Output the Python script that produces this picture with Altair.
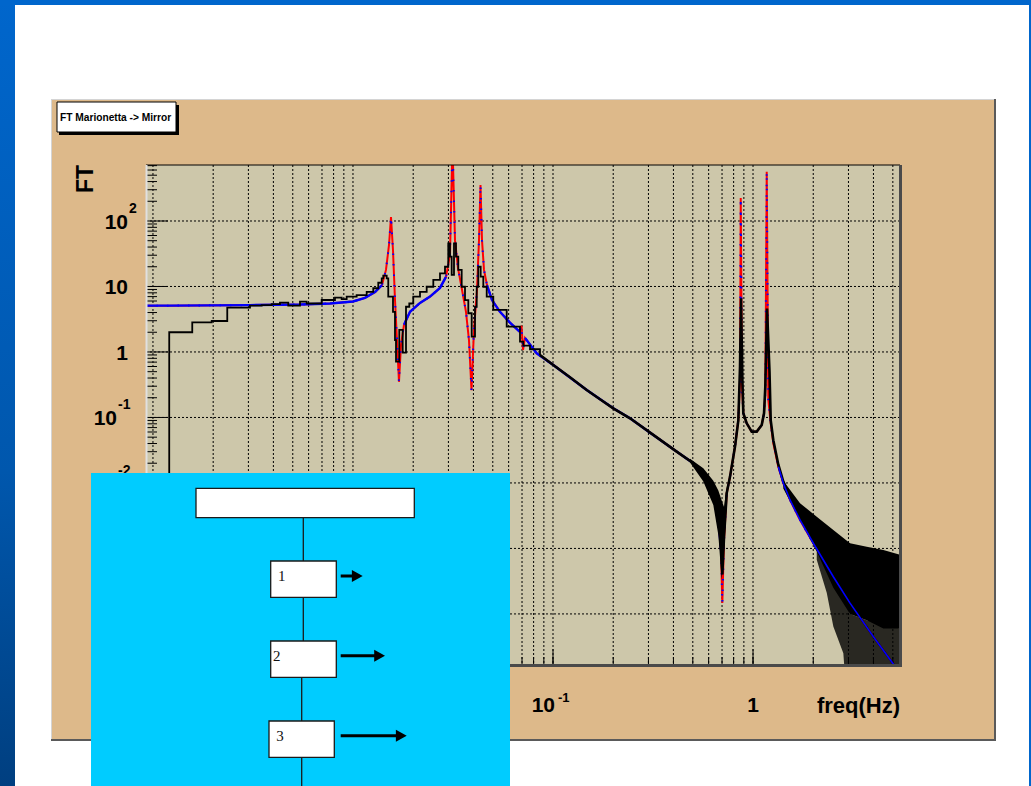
import math
import altair as alt
import pandas as pd

# ---------------- data ----------------
fit_freq = [0.000923, 0.001216, 0.003055, 0.005433, 0.007674, 0.0100, 0.01148, 0.01288, 0.01396, 0.01462,
            0.01514, 0.01549, 0.01585, 0.01622, 0.01660, 0.01698, 0.01738, 0.01799, 0.01928, 0.02163,
            0.02427, 0.02723, 0.02917, 0.03055, 0.03144, 0.03236, 0.03350, 0.03508, 0.03673, 0.03802,
            0.03913, 0.04027, 0.04169, 0.04266, 0.04340, 0.04416, 0.04519, 0.04677, 0.04955, 0.05433,
            0.06095, 0.06802, 0.06960, 0.07079, 0.07244, 0.08288, 0.1003, 0.1474, 0.2001, 0.2427,
            0.3172, 0.4153, 0.5028, 0.5643, 0.6331, 0.6683, 0.6918, 0.7023, 0.7161, 0.7387,
            0.7674, 0.8128, 0.8444, 0.8610, 0.8680, 0.8810, 0.8944, 0.9301, 0.9851, 1.0435,
            1.1053, 1.1350, 1.1522, 1.1709, 1.1926, 1.2260, 1.2633, 1.3381, 1.4170, 1.5311,
            1.7179, 2.0023, 2.5206, 3.0549, 3.9946, 4.9948, 5.4325]
fit_value = [5.1, 5.1, 5.2, 5.3, 5.5, 5.9, 6.7, 8.2, 10.5, 17.9,
             43, 115, 36, 6.2, 1.5, 0.35, 1.28, 2.6, 4.1, 5.6,
             7.0, 9.5, 14, 30, 1500, 51, 19, 8.9, 4.1, 1.5,
             0.26, 2.2, 8.9, 51, 355, 51, 17.9, 10.5, 6.2, 4.1,
             2.8, 2.05, 2.5, 1.07, 1.64, 0.955, 0.634, 0.263, 0.138, 0.0972,
             0.0541, 0.0301, 0.0200, 0.0125, 0.00618, 0.00324, 0.00095, 0.000147, 0.00135, 0.00697,
             0.0125, 0.0358, 0.0916, 0.374, 224, 0.3, 0.116, 0.0814, 0.0607, 0.0607,
             0.0767, 0.116, 0.234, 566, 0.185, 0.0814, 0.0404, 0.0177, 0.00988, 0.0055,
             0.00272, 0.0012, 0.00037, 0.000146, 4.5e-5, 1.77e-5, 1.3e-5]

meas_freq = [0.000923, 0.001206, 0.001572, 0.001966, 0.002352, 0.003055, 0.003495, 0.003922, 0.004315, 0.004748,
             0.005433, 0.005868, 0.006973, 0.008128, 0.008780, 0.009300, 0.01043, 0.01171, 0.01263, 0.01338,
             0.01392, 0.01417, 0.01474, 0.01501, 0.01585, 0.01622, 0.01641, 0.01704, 0.01772, 0.01841,
             0.01912, 0.02002, 0.02163, 0.02336, 0.02521, 0.02723, 0.02884, 0.02995, 0.03055, 0.03115,
             0.03199, 0.03273, 0.03361, 0.03495, 0.03631, 0.03772, 0.03922, 0.04074, 0.04155, 0.04232,
             0.04350, 0.04483, 0.04662, 0.05029, 0.05868, 0.06839, 0.07104, 0.07674, 0.08610, 0.1003,
             0.1216, 0.1474, 0.1718, 0.2001, 0.2427, 0.3172, 0.4153, 0.5028, 0.5643, 0.6331,
             0.6683, 0.6918, 0.7023, 0.7161, 0.7387, 0.7674, 0.8128, 0.8444, 0.8610, 0.8710,
             0.8841, 0.8944, 0.9301, 0.9851, 1.0435, 1.1053, 1.1350, 1.1522, 1.1749, 1.2090,
             1.2260, 1.2633, 1.3381, 1.4170, 1.5311, 1.7179, 2.0023, 2.5206, 3.0549, 3.9946,
             5.4325]
meas_value = [1e-6, 2.0, 2.84, 2.97, 4.74, 5.1, 5.2, 5.37, 5.66, 5.1,
              5.86, 5.5, 6.22, 6.75, 6.4, 6.98, 7.4, 8.3, 9.4, 11.4,
              13.3, 14.6, 13.3, 7.0, 4.1, 1.52, 0.71, 2.17, 0.975, 4.9,
              5.5, 7.0, 8.3, 9.9, 12.6, 15.9, 20, 45.6, 28.5, 15,
              45.6, 28.5, 17.9, 9.9, 6.2, 3.9, 1.71, 4.9, 9.9, 20,
              14.1, 9.9, 7.0, 4.4, 2.43, 1.44, 1.25, 1.1, 0.9, 0.634,
              0.41, 0.263, 0.19, 0.138, 0.0972, 0.0541, 0.0301, 0.0200, 0.0125, 0.0062,
              0.0032, 0.0012, 0.0004, 0.0015, 0.007, 0.0125, 0.036, 0.09, 0.6, 6.6,
              0.4, 0.116, 0.0814, 0.0607, 0.0607, 0.0767, 0.116, 0.3, 4.6, 0.5,
              0.09, 0.045, 0.019, 0.0105, 0.006, 0.0035, 0.0018, 0.0009, 0.0006, 0.0005,
              0.0004]

# noise envelope of the measured transfer function
band_segment = ["notch"] * 7 + ["hf"] * 8 + ["hf_sparse"] * 7
band_freq = [0.4842, 0.5643, 0.6331, 0.6707, 0.6974, 0.7161, 0.7387,
             1.4170, 1.7179, 2.0822, 2.5206, 3.0549, 3.7023, 4.4823, 5.4325,
             2.0822, 2.3364, 2.5206, 2.8282, 3.0549, 3.7023, 5.4325]
band_high = [0.0235, 0.0168, 0.0108, 0.0077, 0.0054, 0.0043, 0.009,
             0.0108, 0.0049, 0.00306, 0.00191, 0.0012, 0.00106, 0.00095, 0.0008,
             0.0009, 0.0006, 0.0004, 0.0002, 0.0001, 8e-5, 6e-5]
band_low = [0.0205, 0.0105, 0.0046, 0.0016, 0.00033, 0.0009, 0.005,
            0.0082, 0.00272, 0.0009, 0.00025, 0.0001, 8e-5, 6e-5, 6e-5,
            0.00067, 0.00021, 6.4e-5, 2.5e-5, 1e-6, 1e-6, 1e-6]

# frequency ranges where the blue fit is seen as a solid line
blue_solid_lo = [0.0009, 0.0179, 0.0452, 0.0724]
blue_solid_hi = [0.0146, 0.0292, 0.0681, 0.70]

x_label_values = [0.001, 0.01, 0.1, 1.0]
x_label_base = ["10", "10", "10", "1"]
x_label_sup = ["-3", "-2", "-1", ""]
y_label_values = [100, 10, 1, 0.1, 0.01]
y_label_base = ["10", "10", "1", "10", "10"]
y_label_sup = ["2", "", "", "-1", "-2"]

# ---------------- layout ----------------
W, H = 754, 500
LEFT, TOP = 146, 165
FONT = "Liberation Sans"
xs = alt.Scale(type="log", domain=[0.000923, 5.43], nice=False)
ys = alt.Scale(type="log", domain=[1.66e-5, 716], nice=False)

one = pd.DataFrame({"k": [0]})


def sx(a):
    return a - LEFT


def sy(a):
    return a - TOP


def rect(x1, y1, x2, y2, **style):
    return alt.Chart(one).mark_rect(**style).encode(
        x=alt.value(sx(x1)), x2=alt.value(sx(x2)), y=alt.value(sy(y1)), y2=alt.value(sy(y2)))


def seg(x1, y1, x2, y2, **style):
    return alt.Chart(one).mark_rule(**style).encode(
        x=alt.value(sx(x1)), x2=alt.value(sx(x2)), y=alt.value(sy(y1)), y2=alt.value(sy(y2)))


def txt(x, y, text, **style):
    return alt.Chart(one).mark_text(text=text, **style).encode(x=alt.value(sx(x)), y=alt.value(sy(y)))


X = alt.X("f:Q", scale=xs, axis=None)
Yv = alt.Y("v:Q", scale=ys, axis=None)

fit_df = pd.DataFrame({"f": fit_freq, "v": fit_value})
bseg = []
for f in fit_freq:
    s = -1
    for i, (lo, hi) in enumerate(zip(blue_solid_lo, blue_solid_hi)):
        if lo <= f <= hi:
            s = i
    bseg.append(s)
fit_df["bseg"] = bseg
meas_df = pd.DataFrame({"f": meas_freq, "v": meas_value})
band_df = pd.DataFrame({"seg": band_segment, "f": band_freq, "hi": band_high, "lo": band_low})

grid_x = [k * 10.0 ** d for d in range(-3, 1) for k in range(1, 10)] + [1.0 * k for k in range(1, 6)]
grid_x = sorted(set(round(g, 10) for g in grid_x if 0.000923 <= g <= 5.43))
grid_y_major = [10.0 ** d for d in range(-4, 3)]
grid_y_minor = [k * 10.0 ** d for d in range(-5, 3) for k in range(2, 10)]
grid_y_minor = [g for g in grid_y_minor if 1.66e-5 <= g <= 716]
gx = pd.DataFrame({"f": grid_x})
gx_major = pd.DataFrame({"f": [g for g in grid_x if abs(round(math.log10(g)) - math.log10(g)) < 1e-9]})
gy = pd.DataFrame({"v": grid_y_major})
gy_minor = pd.DataFrame({"v": grid_y_minor})

layers = []

# slide background decorations
layers.append(rect(0, 0, 15, 786, fill=alt.Gradient(
    gradient="linear",
    stops=[alt.GradientStop(color="#0066cc", offset=0),
           alt.GradientStop(color="#0057ad", offset=0.6),
           alt.GradientStop(color="#003f80", offset=1)],
    x1=0, x2=0, y1=0, y2=1)))
layers.append(rect(0, 0, 1031, 5, fill="#0066cc"))
layers.append(rect(1029, 0, 1031, 786, fill="#0066cc"))

# ROOT canvas frame
layers.append(rect(51, 99, 996, 741, fill="#5a5a5a"))
layers.append(rect(51, 99, 994, 739, fill="#ddb98a"))
layers.append(seg(51, 99.5, 994, 99.5, color="#d4d4d4", strokeWidth=1))
layers.append(seg(51.5, 99, 51.5, 739, color="#d4d4d4", strokeWidth=1))

# title box
layers.append(rect(59, 105, 179, 135, fill="black"))
layers.append(rect(57, 102, 176, 132, fill="white", stroke="black", strokeWidth=1))
layers.append(txt(60, 118, "FT Marionetta -> Mirror", align="left", baseline="middle",
                  font=FONT, fontSize=10.2, fontWeight="bold", color="black"))

# plot area
layers.append(rect(146, 165, 900, 665, fill="#cdc7aa"))

# grid
layers.append(alt.Chart(gx).mark_rule(color="black", strokeDash=[2, 2], strokeWidth=1).encode(
    x=X, y=alt.value(0), y2=alt.value(H)))
layers.append(alt.Chart(gy).mark_rule(color="black", strokeDash=[2, 2], strokeWidth=1).encode(
    y=Yv, x=alt.value(0), x2=alt.value(W)))

# ticks
layers.append(alt.Chart(gy).mark_rule(color="black", strokeWidth=1).encode(
    y=Yv, x=alt.value(0), x2=alt.value(22)))
layers.append(alt.Chart(gy_minor).mark_rule(color="black", strokeWidth=1).encode(
    y=Yv, x=alt.value(0), x2=alt.value(11)))
layers.append(alt.Chart(gx).mark_rule(color="black", strokeWidth=1).encode(
    x=X, y=alt.value(H), y2=alt.value(H - 8)))
layers.append(alt.Chart(gx_major).mark_rule(color="black", strokeWidth=1).encode(
    x=X, y=alt.value(H), y2=alt.value(H - 16)))

# data curves
layers.append(alt.Chart(fit_df).mark_line(color="#ff0000", strokeWidth=2, clip=True).encode(x=X, y=Yv))
layers.append(alt.Chart(fit_df).mark_line(color="#0000ff", strokeWidth=2, strokeDash=[1.5, 9], clip=True).encode(
    x=X, y=Yv))
layers.append(alt.Chart(fit_df).transform_filter("datum.bseg >= 0").mark_line(
    color="#0000ff", strokeWidth=2.4, clip=True).encode(x=X, y=Yv, detail="bseg:N"))
layers.append(alt.Chart(meas_df).transform_filter("datum.f <= 0.0862").mark_line(
    color="black", strokeWidth=1.8, interpolate="step-after", clip=True).encode(x=X, y=Yv))
layers.append(alt.Chart(meas_df).transform_filter("datum.f >= 0.086").mark_line(
    color="black", strokeWidth=2.6, clip=True).encode(x=X, y=Yv))
layers.append(alt.Chart(band_df).transform_filter("datum.seg != 'hf_sparse'").mark_area(
    color="black", clip=True).encode(
    x=X, y=alt.Y("hi:Q", scale=ys, axis=None), y2="lo:Q", detail="seg:N"))
layers.append(alt.Chart(band_df).transform_filter("datum.seg == 'hf_sparse'").mark_area(
    color="black", opacity=0.8, clip=True).encode(
    x=X, y=alt.Y("hi:Q", scale=ys, axis=None), y2="lo:Q"))
layers.append(alt.Chart(fit_df).transform_filter("datum.f >= 1.33").mark_line(
    color="#0000ff", strokeWidth=1.6, clip=True).encode(x=X, y=Yv))

# plot frame
layers.append(seg(146, 165, 900, 165, color="black", strokeWidth=1))
layers.append(seg(146.5, 165, 146.5, 665, color="#e0e0e0", strokeWidth=2))
layers.append(rect(899, 165, 902, 667, fill="#4a4a4a"))
layers.append(rect(146, 664, 902, 667, fill="#4a4a4a"))

# axis labels
xlab = pd.DataFrame({"f": x_label_values, "base": x_label_base, "sup": x_label_sup})
ylab = pd.DataFrame({"v": y_label_values, "base": y_label_base, "sup": y_label_sup})
lab_style = dict(font=FONT, fontWeight="bold", color="black", baseline="alphabetic")
layers.append(alt.Chart(xlab).transform_filter("datum.sup != ''").mark_text(
    align="right", dx=2, fontSize=21, **lab_style).encode(x=X, y=alt.value(547), text="base:N"))
layers.append(alt.Chart(xlab).transform_filter("datum.sup != ''").mark_text(
    align="left", dx=5, fontSize=13, **lab_style).encode(x=X, y=alt.value(537), text="sup:N"))
layers.append(alt.Chart(xlab).transform_filter("datum.sup == ''").mark_text(
    align="center", fontSize=21, **lab_style).encode(x=X, y=alt.value(547), text="base:N"))
layers.append(alt.Chart(ylab).transform_filter("length(datum.sup) < 2").mark_text(
    align="right", dy=8, fontSize=21, **lab_style).encode(y=Yv, x=alt.value(-18), text="base:N"))
layers.append(alt.Chart(ylab).transform_filter("length(datum.sup) == 1").mark_text(
    align="left", dy=-8, fontSize=14, **lab_style).encode(y=Yv, x=alt.value(-17), text="sup:N"))
layers.append(alt.Chart(ylab).transform_filter("length(datum.sup) == 2").mark_text(
    align="right", dy=8, fontSize=21, **lab_style).encode(y=Yv, x=alt.value(-29), text="base:N"))
layers.append(alt.Chart(ylab).transform_filter("length(datum.sup) == 2").mark_text(
    align="left", dy=-8, fontSize=14, **lab_style).encode(y=Yv, x=alt.value(-28), text="sup:N"))
layers.append(txt(900, 713, "freq(Hz)", align="right", baseline="alphabetic",
                  font=FONT, fontSize=22, fontWeight="bold", color="black"))
layers.append(txt(86, 165, "FT", align="right", baseline="middle", angle=270,
                  font=FONT, fontSize=23, fontWeight="bold", color="black"))

# cyan overlay with diagram
layers.append(rect(91, 473, 510, 786, fill="#00ccff"))
line_style = dict(color="#1a1a1a", strokeWidth=1.3)
layers.append(seg(303.3, 517.7, 303.3, 561, **line_style))
layers.append(seg(303.3, 597.3, 303.3, 641, **line_style))
layers.append(seg(301.7, 677.3, 301.7, 721, **line_style))
layers.append(seg(301.7, 757.3, 301.7, 786, **line_style))
box_style = dict(fill="white", stroke="#1a1a1a", strokeWidth=1.3)
layers.append(rect(196, 488.3, 414.3, 517.7, **box_style))
layers.append(rect(270.7, 561, 336.3, 597.3, **box_style))
layers.append(rect(270.7, 641, 336.3, 677.3, **box_style))
layers.append(rect(269, 721, 334.3, 757.3, **box_style))
num_style = dict(align="center", baseline="middle", font="Liberation Serif", fontSize=15, color="#111111")
layers.append(txt(281.7, 576, "1", **num_style))
layers.append(txt(276.7, 656, "2", **num_style))
layers.append(txt(280, 736, "3", **num_style))
for yc, tip in [(576, 362.7), (655.7, 385), (735.7, 406.7)]:
    layers.append(seg(340.7, yc, tip - 9, yc, color="black", strokeWidth=3))
    layers.append(alt.Chart(one).mark_point(
        shape="M-0.9,-1L0.9,0L-0.9,1Z", filled=True, size=144, color="black", opacity=1).encode(
        x=alt.value(sx(tip - 5.4)), y=alt.value(sy(yc))))

chart = alt.layer(*layers).properties(
    width=W, height=H,
    autosize=alt.AutoSizeParams(type="none"),
    padding={"left": LEFT, "top": TOP, "right": 1031 - LEFT - W, "bottom": 786 - TOP - H},
    background="white",
).configure_view(stroke=None)

chart.save("out.html", embed_options={"renderer": "svg", "actions": False})
